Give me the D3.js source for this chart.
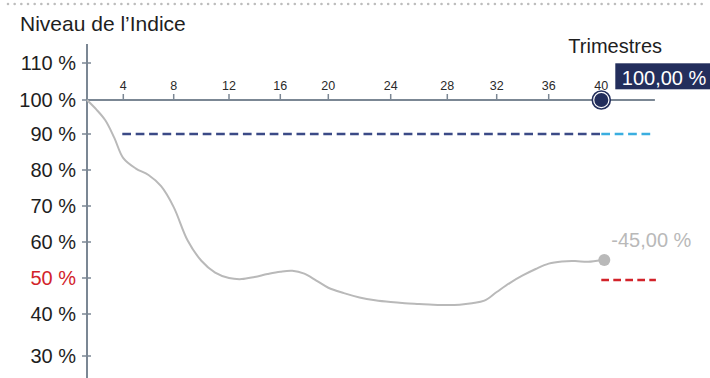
<!DOCTYPE html>
<html>
<head>
<meta charset="utf-8">
<script src="https://cdn.jsdelivr.net/npm/d3@7"></script>
<style>
  html, body { margin: 0; padding: 0; background: #fff; }
  svg { display: block; font-family: "Liberation Sans", Arial, sans-serif; }
</style>
</head>
<body>
<svg id="chart" width="710" height="378"></svg>
<script>
// Index path, one value per quarter (percent of initial level)
const quarters = d3.range(0, 41);
const indexLevel = [
  100, 97.3, 94.1, 89.0, 83.3, 80.4, 78.6, 75.5, 69.7, 60.5,
  54.8, 51.5, 50.0, 49.7, 50.3, 51.1, 51.75, 52.0, 51.2, 49.3,
  47.3, 45.8, 44.6, 43.8, 43.3, 43.0, 42.8, 42.6, 42.5, 42.6,
  43.0, 43.7, 46.1, 48.6, 50.7, 52.5, 54.0, 54.6, 54.7, 54.5,
  55.0
];
const xTicks = [4, 8, 12, 16, 20, 24, 28, 32, 36, 40];
const yTicks = [110, 100, 90, 80, 70, 60, 50, 40, 30];
const capitalLevel = 100;     // capital protection level
const couponLevel = 90;       // coupon barrier
const barrierLevel = 50;      // capital barrier
const finalQuarter = 40;
const finalChange = -45;      // final performance of the index
const capitalLabel = "100,00 %";
const title = "Niveau de l’Indice";
const xTitle = "Trimestres";

const fmtPct = v => v.toFixed(2).replace(".", ",") + " %";

const svg = d3.select("#chart");
const dark = "#1e1e1e";
const navy = "#232e5c";
const axisCol = "#7b8794";
const grey = "#b9b9b9";
const red = "#d2232a";
const lightBlue = "#3aaee0";

// Scales (quarter axis drawn with uneven spacing of the quarterly dates)
const x = d3.scaleLinear()
  .domain([0, 4, 8, 12, 16, 20, 24, 28, 32, 36, 40])
  .range([87, 123.3, 173.7, 229, 280.3, 328.3, 390.7, 447.3, 496.7, 548.7, 601.3]);
const y = d3.scaleLinear()
  .domain([30, 40, 90, 100, 110])
  .range([356, 314, 134, 100, 63]);
const xEnd = 44;

// Dotted rule at the top
svg.append("line")
  .attr("x1", 8).attr("x2", 708).attr("y1", 4).attr("y2", 4)
  .attr("stroke", "#bdbdbd").attr("stroke-width", 2.6)
  .attr("stroke-linecap", "round").attr("stroke-dasharray", "0 6.67");

// Title
svg.append("text").attr("x", 20).attr("y", 31)
  .attr("font-size", 21).attr("fill", dark).text(title);

// Y axis
const yAxis = svg.append("g").attr("transform", `translate(${x(0)},0)`);
yAxis.append("line").attr("x1", 0).attr("x2", 0).attr("y1", 44).attr("y2", 378)
  .attr("stroke", axisCol).attr("stroke-width", 2);
const yt = yAxis.selectAll("g.yt").data(yTicks).join("g")
  .attr("class", "yt").attr("transform", d => `translate(0,${y(d)})`);
yt.append("line").attr("x1", -5).attr("x2", 4).attr("stroke", axisCol).attr("stroke-width", 1.5);
yt.append("text").attr("x", -11).attr("dy", "0.36em").attr("text-anchor", "end")
  .attr("font-size", 20).attr("fill", d => d === barrierLevel ? red : dark)
  .text(d => d + " %");

// X axis along the 100 % level
const xAxisG = svg.append("g").attr("transform", `translate(0,${y(capitalLevel)})`);
xAxisG.append("line").attr("x1", x(0)).attr("x2", x(xEnd) + 1)
  .attr("stroke", axisCol).attr("stroke-width", 2);
const xt = xAxisG.selectAll("g.xt").data(xTicks).join("g")
  .attr("class", "xt").attr("transform", d => `translate(${x(d)},0)`);
xt.append("line").attr("y1", 0).attr("y2", -6).attr("stroke", axisCol).attr("stroke-width", 1.5);
xt.append("text").attr("y", -10.5).attr("text-anchor", "middle")
  .attr("font-size", 12.5).attr("fill", "#2a2a2a").text(d => d);

svg.append("text").attr("x", 662).attr("y", 53).attr("text-anchor", "end")
  .attr("font-size", 20).attr("fill", dark).text(xTitle);

// Coupon barrier (dashed) and its extension
svg.append("line")
  .attr("x1", x(4) - 1).attr("x2", x(finalQuarter))
  .attr("y1", y(couponLevel)).attr("y2", y(couponLevel))
  .attr("stroke", "#3b4a86").attr("stroke-width", 2.6).attr("stroke-dasharray", "8.7 4.7");
svg.append("line")
  .attr("x1", x(finalQuarter)).attr("x2", x(xEnd) + 1)
  .attr("y1", y(couponLevel)).attr("y2", y(couponLevel))
  .attr("stroke", lightBlue).attr("stroke-width", 2.6).attr("stroke-dasharray", "8.7 4.7");

// Capital barrier at maturity
svg.append("line")
  .attr("x1", x(finalQuarter)).attr("x2", x(xEnd) + 2)
  .attr("y1", y(barrierLevel) + 2).attr("y2", y(barrierLevel) + 2)
  .attr("stroke", red).attr("stroke-width", 2.6).attr("stroke-dasharray", "7.7 4.3");

// Index path
const pts = quarters.map((q, i) => [q, indexLevel[i]]);
const line = d3.line().x(d => x(d[0])).y(d => y(d[1])).curve(d3.curveCatmullRom.alpha(0.5));
svg.append("path").datum(pts).attr("d", line)
  .attr("fill", "none").attr("stroke", grey).attr("stroke-width", 2);

const last = pts[pts.length - 1];
svg.append("circle").attr("cx", x(last[0]) + 3).attr("cy", y(last[1]))
  .attr("r", 6).attr("fill", grey);
svg.append("text").attr("x", x(last[0]) + 10).attr("y", y(last[1]) - 13)
  .attr("font-size", 20).attr("fill", grey).text(fmtPct(finalChange));

// Capital repaid marker at maturity
const cx = x(finalQuarter), cy = y(capitalLevel);
svg.append("circle").attr("cx", cx).attr("cy", cy).attr("r", 9)
  .attr("fill", "#fff").attr("stroke", navy).attr("stroke-width", 1.6);
svg.append("circle").attr("cx", cx).attr("cy", cy).attr("r", 7).attr("fill", navy);

svg.append("rect").attr("x", cx + 14).attr("y", cy - 36.7)
  .attr("width", 96).attr("height", 26).attr("fill", navy);
svg.append("text").attr("x", cx + 20.5).attr("y", cy - 15)
  .attr("font-size", 20).attr("fill", "#fff").text(capitalLabel);
</script>
</body>
</html>
